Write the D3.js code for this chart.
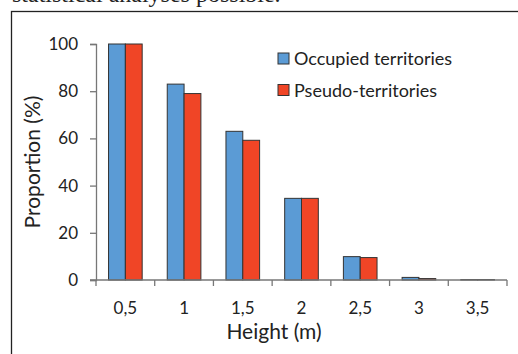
<!DOCTYPE html>
<html>
<head>
<meta charset="utf-8">
<script src="https://cdn.jsdelivr.net/npm/d3@7"></script>
<style>
  body { margin: 0; background: #fff; }
  svg { display: block; }
  text { font-family: Lato, "Open Sans", sans-serif; fill: #222; }
</style>
</head>
<body>
<svg id="chart" width="518" height="354"></svg>
<script>
var heights = ["0,5", "1", "1,5", "2", "2,5", "3", "3,5"];
var occupied = [100, 83, 63, 34.6, 9.9, 1.1, 0.2];
var pseudo = [100, 79, 59.2, 34.6, 9.5, 0.6, 0.2];
var seriesNames = ["Occupied territories", "Pseudo-territories"];
var yTicks = [0, 20, 40, 60, 80, 100];

let colors = ["#5B9BD5", "#F04526"];

const svg = d3.select("#chart");

// clipped caption line from the page above
svg.append("text")
  .attr("x", 12)
  .attr("y", 2)
  .style("font-family", "'Liberation Serif', serif")
  .style("font-size", "24px")
  .attr("fill", "#333")
  .text("statistical analyses possible.");

// frame round the figure
svg.append("rect")
  .attr("x", 11.5)
  .attr("y", 11.5)
  .attr("width", 600)
  .attr("height", 400)
  .attr("fill", "none")
  .attr("stroke", "#222")
  .attr("stroke-width", 1.3);

const plotLeft = 96, plotRight = 507, plotTop = 44, plotBottom = 280;

const x = d3.scaleBand()
  .domain(heights)
  .range([plotLeft, plotRight])
  .paddingInner(0.427)
  .paddingOuter(0.2135);

const x1 = d3.scaleBand()
  .domain([0, 1])
  .range([0, x.bandwidth()]);

const y = d3.scaleLinear()
  .domain([0, 100])
  .range([plotBottom, plotTop]);

// bars
const groups = svg.append("g")
  .selectAll("g")
  .data(heights)
  .enter()
  .append("g")
  .attr("transform", d => "translate(" + x(d) + ",0)");

groups.selectAll("rect")
  .data((d, i) => [occupied[i], pseudo[i]])
  .enter()
  .append("rect")
  .attr("x", (d, j) => x1(j))
  .attr("y", d => y(d))
  .attr("width", x1.bandwidth())
  .attr("height", d => y(0) - y(d))
  .attr("fill", (d, j) => colors[j])
  .attr("stroke", "#333")
  .attr("stroke-width", 1);

// y axis
const yAxis = svg.append("g")
  .attr("transform", "translate(" + plotLeft + ",0)")
  .call(d3.axisLeft(y).tickValues(yTicks).tickSize(6).tickPadding(12));
yAxis.select(".domain").attr("stroke", "#777").attr("stroke-width", 1.3);
yAxis.selectAll(".tick line").attr("stroke", "#777").attr("stroke-width", 1.3);
yAxis.selectAll(".tick text")
  .style("font-family", "Lato, sans-serif")
  .style("font-size", "17px")
  .attr("fill", "#222");

// x axis line with ticks between categories
const xAxis = svg.append("g");
xAxis.append("line")
  .attr("x1", plotLeft - 6)
  .attr("x2", plotRight)
  .attr("y1", plotBottom)
  .attr("y2", plotBottom)
  .attr("stroke", "#777")
  .attr("stroke-width", 1.3);
const bounds = heights.map(d => x(d) - x.step() * x.paddingInner() / 2);
bounds.push(plotRight);
xAxis.selectAll("line.xt")
  .data(bounds)
  .enter()
  .append("line")
  .attr("class", "xt")
  .attr("x1", d => d)
  .attr("x2", d => d)
  .attr("y1", plotBottom)
  .attr("y2", plotBottom + 6)
  .attr("stroke", "#777")
  .attr("stroke-width", 1.3);
xAxis.selectAll("text")
  .data(heights)
  .enter()
  .append("text")
  .attr("x", d => x(d) + x.bandwidth() / 2)
  .attr("y", 314)
  .attr("text-anchor", "middle")
  .style("font-size", "17px")
  .text(d => d);

// axis titles
svg.append("text")
  .attr("transform", "translate(40,162) rotate(-90)")
  .attr("text-anchor", "middle")
  .style("font-size", "21px")
  .text("Proportion (%)");

svg.append("text")
  .attr("x", 274)
  .attr("y", 339)
  .attr("text-anchor", "middle")
  .style("font-size", "21px")
  .text("Height (m)");

// legend
const legend = svg.append("g")
  .selectAll("g")
  .data(seriesNames)
  .enter()
  .append("g")
  .attr("transform", (d, i) => "translate(278," + (53 + i * 31.5) + ")");
legend.append("rect")
  .attr("width", 11)
  .attr("height", 11)
  .attr("fill", (d, i) => colors[i])
  .attr("stroke", "#333")
  .attr("stroke-width", 1);
legend.append("text")
  .attr("x", 16)
  .attr("y", 12)
  .style("font-size", "18px")
  .text(d => d);
</script>
</body>
</html>
